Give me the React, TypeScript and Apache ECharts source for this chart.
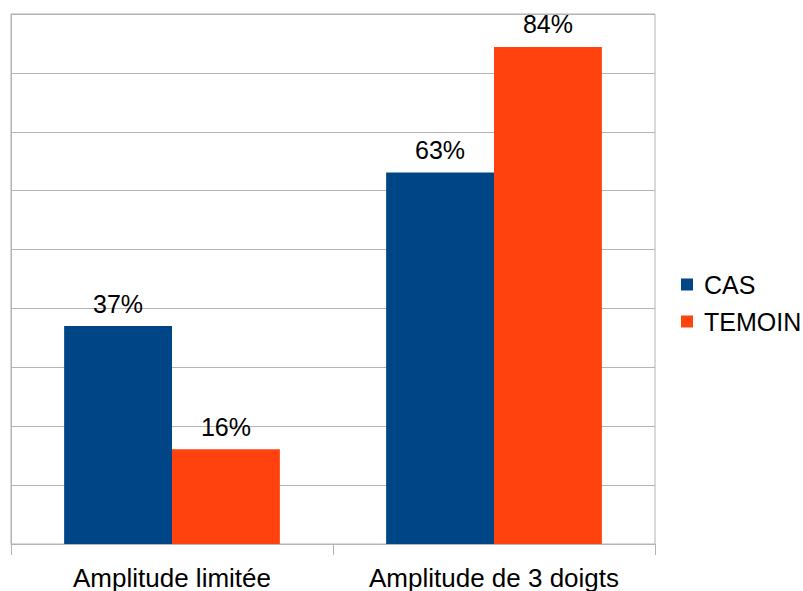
import React, { useEffect, useRef } from "react";
import * as echarts from "echarts";

const categories = ["Amplitude limitée", "Amplitude de 3 doigts"];
const casValues = [37.0, 63.1];
const temoinValues = [16.1, 84.4];
const seriesNames = ["CAS", "TEMOIN"];
const yMax = 90;
const yInterval = 10;

export default function App() {
  const ref = useRef<HTMLDivElement>(null);
  useEffect(() => {
    if (!ref.current) return;
    const chart = echarts.init(ref.current, null, { renderer: "svg" });
    const font = "'Liberation Sans', Arial, sans-serif";
    const grey = "#b3b3b3";
    const labelCfg = {
      show: true,
      position: "top",
      distance: 10,
      formatter: (p: any) => Math.round(p.value) + "%",
      color: "#000",
      fontSize: 25,
      fontFamily: font,
    };
    chart.setOption({
      animation: false,
      backgroundColor: "#fff",
      textStyle: { fontFamily: font },
      grid: {
        left: 11,
        right: 148,
        top: 14,
        bottom: 45,
        show: true,
        borderColor: grey,
        borderWidth: 1,
        containLabel: false,
      },
      legend: {
        orient: "vertical",
        left: 681,
        top: 272,
        padding: 0,
        itemWidth: 12,
        itemHeight: 12,
        itemGap: 12,
        icon: "rect",
        data: seriesNames,
        textStyle: {
          fontSize: 25,
          fontFamily: font,
          color: "#000",
          padding: [0, 0, 0, 6],
        },
      },
      xAxis: {
        type: "category",
        data: categories,
        axisLine: { show: true, lineStyle: { color: grey } },
        axisTick: { show: true, length: 11, lineStyle: { color: grey } },
        axisLabel: {
          color: "#000",
          fontSize: 26,
          fontFamily: font,
          margin: 21,
          interval: 0,
        },
        splitLine: { show: false },
      },
      yAxis: {
        type: "value",
        min: 0,
        max: yMax,
        interval: yInterval,
        axisLine: { show: true, lineStyle: { color: grey } },
        axisTick: { show: false },
        axisLabel: { show: false },
        splitLine: { show: true, lineStyle: { color: grey } },
      },
      series: [
        {
          name: seriesNames[0],
          type: "bar",
          data: casValues,
          itemStyle: { color: "#004586" },
          barGap: "0%",
          barCategoryGap: "33%",
          label: labelCfg,
        },
        {
          name: seriesNames[1],
          type: "bar",
          data: temoinValues,
          itemStyle: { color: "#ff420e" },
          barGap: "0%",
          barCategoryGap: "33%",
          label: labelCfg,
        },
      ],
    });
    return () => chart.dispose();
  }, []);
  return <div ref={ref} style={{ width: 803, height: 591, position: "absolute", left: 0, top: 0 }} />;
}
